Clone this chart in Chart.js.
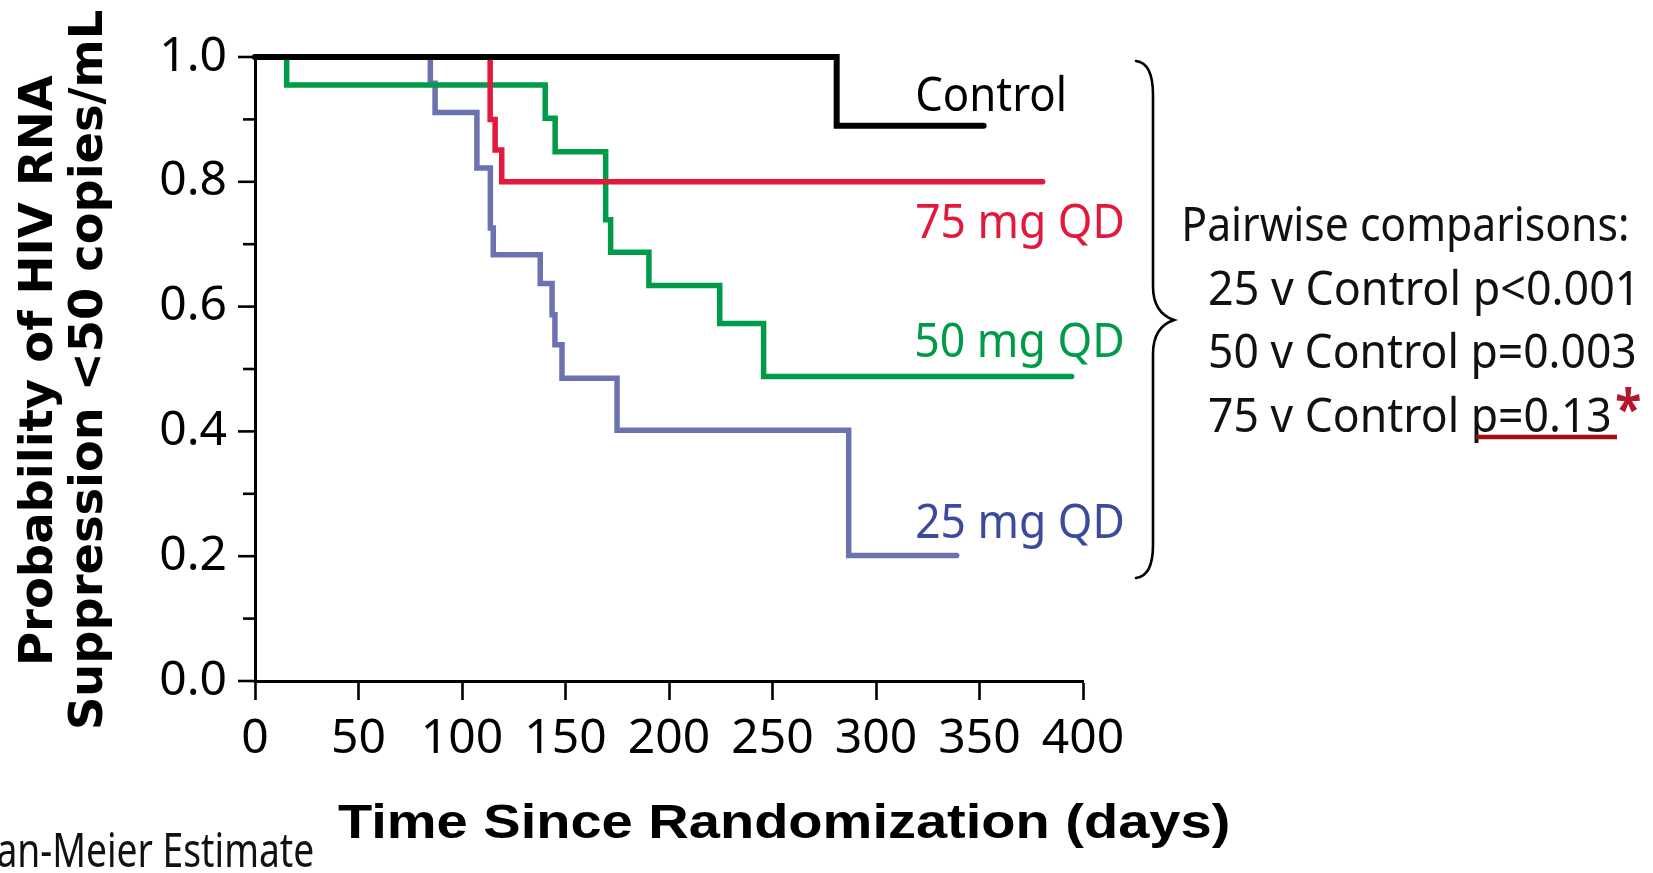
<!DOCTYPE html>
<html>
<head>
<meta charset="utf-8">
<script src="https://cdn.jsdelivr.net/npm/chart.js@4.4.1/dist/chart.umd.min.js"></script>
<style>
html,body{margin:0;padding:0;background:#fff;overflow:hidden}
#wrap{width:1653px;height:873px;position:relative}
</style>
</head>
<body>
<div id="wrap"><canvas id="c" width="1653" height="873"></canvas></div>
<script>
// ---------------- data ----------------
const xTickValues = [0, 50, 100, 150, 200, 250, 300, 350, 400];
const yTickValues = [0, 0.1, 0.2, 0.3, 0.4, 0.5, 0.6, 0.7, 0.8, 0.9, 1.0];
const yTickLabels = ['0.0', '', '0.2', '', '0.4', '', '0.6', '', '0.8', '', '1.0'];

const seriesNames = ['Control', '75 mg QD', '50 mg QD', '25 mg QD'];

const controlDays = [0, 281, 352];
const controlProb = [1.0, 0.89, 0.89];

const mg75Days = [0, 113.6, 116.0, 119.2, 380.5];
const mg75Prob = [1.0, 0.90, 0.851, 0.80, 0.80];

const mg50Days = [0, 15.3, 140.2, 145.0, 169.4, 171.8, 190.3, 224.5, 245.7, 394.5];
const mg50Prob = [1.0, 0.955, 0.902, 0.848, 0.739, 0.687, 0.634, 0.573, 0.488, 0.488];

const mg25Days = [0, 84.7, 87.0, 107.2, 113.7, 115.1, 137.8, 143.5, 144.9, 148.3, 174.9, 286.8, 339];
const mg25Prob = [1.0, 0.958, 0.911, 0.822, 0.726, 0.683, 0.637, 0.587, 0.539, 0.485, 0.402, 0.201, 0.201];

const xTitle = 'Time Since Randomization (days)';
const yTitleLines = ['Probability of HIV RNA', 'Suppression <50 copies/mL'];
const pairwiseTitle = 'Pairwise comparisons:';
const comparisonLines = ['25 v Control p<0.001', '50 v Control p=0.003', '75 v Control p=0.13'];
const footnote = 'an-Meier Estimate';

// ---------------- styles ----------------
const lineColors = ['#000000', '#e1193c', '#009b48', '#6c72b0'];
const labelColors = ['#000000', '#e1193c', '#009b48', '#3c4a9b'];
const lineWidths = [6, 5.5, 5.5, 5.5];

function pts(xs, ys) { return xs.map((x, i) => ({ x: x, y: ys[i] })); }
const seriesData = [
  pts(controlDays, controlProb),
  pts(mg75Days, mg75Prob),
  pts(mg50Days, mg50Prob),
  pts(mg25Days, mg25Prob)
];

// pick a narrow tick font if one is installed
function fontInstalled(name) {
  const c = document.createElement('canvas').getContext('2d');
  const s = '0123456789.0';
  c.font = '50px monospace'; const a = c.measureText(s).width;
  c.font = "50px '" + name + "', monospace"; const b = c.measureText(s).width;
  return Math.abs(a - b) > 0.5;
}
const narrow = fontInstalled('Liberation Sans Narrow');
const tickFont = narrow
  ? { family: "'Liberation Sans Narrow', sans-serif", size: 50 }
  : { family: "'Noto Sans', 'Open Sans', sans-serif", size: 48 };

// draw text so that its ink spans [x0,x1] horizontally, at a baseline
function fitText(ctx, text, font, color, x0, x1, baseline) {
  ctx.save();
  ctx.font = font;
  ctx.fillStyle = color;
  ctx.textAlign = 'left';
  ctx.textBaseline = 'alphabetic';
  const m = ctx.measureText(text);
  const inkW = m.actualBoundingBoxLeft + m.actualBoundingBoxRight;
  const sx = (x1 - x0) / inkW;
  ctx.translate(x0, baseline);
  ctx.scale(sx, 1);
  ctx.fillText(text, m.actualBoundingBoxLeft, 0);
  ctx.restore();
}
// draw text so its ink fills a box
function boxText(ctx, text, font, color, x0, x1, y0, y1) {
  ctx.save();
  ctx.font = font;
  ctx.fillStyle = color;
  ctx.textAlign = 'left';
  ctx.textBaseline = 'alphabetic';
  const m = ctx.measureText(text);
  const inkW = m.actualBoundingBoxLeft + m.actualBoundingBoxRight;
  const inkH = m.actualBoundingBoxAscent + m.actualBoundingBoxDescent;
  ctx.translate(x0, y0);
  ctx.scale((x1 - x0) / inkW, (y1 - y0) / inkH);
  ctx.fillText(text, m.actualBoundingBoxLeft, m.actualBoundingBoxAscent);
  ctx.restore();
}

const decorPlugin = {
  id: 'decor',
  afterDraw(chart) {
    const ctx = chart.ctx;
    const ys = chart.scales.y;
    const left = chart.chartArea.left;
    // y tick marks (major longer than minor)
    ctx.save();
    ctx.strokeStyle = '#000';
    ctx.lineWidth = 2.6;
    ys.ticks.forEach((t, i) => {
      const py = ys.getPixelForValue(t.value);
      const major = yTickLabels[i] !== '';
      const len = major ? 17 : 12;
      ctx.beginPath();
      ctx.moveTo(left - len, py);
      ctx.lineTo(left, py);
      ctx.stroke();
    });
    ctx.restore();

    // series labels
    const sans = "'Noto Sans', 'Open Sans', sans-serif";
    fitText(ctx, seriesNames[0], '48px ' + sans, labelColors[0], 917, 1064, 111);
    fitText(ctx, seriesNames[1], '48px ' + sans, labelColors[1], 917, 1123, 238);
    fitText(ctx, seriesNames[2], '48px ' + sans, labelColors[2], 917, 1123, 357);
    fitText(ctx, seriesNames[3], '48px ' + sans, labelColors[3], 917, 1123, 538);

    // curly brace
    ctx.save();
    ctx.strokeStyle = '#000';
    ctx.lineWidth = 2.6;
    ctx.lineCap = 'round';
    ctx.beginPath();
    ctx.moveTo(1136, 61);
    ctx.quadraticCurveTo(1153, 63, 1153, 95);
    ctx.lineTo(1153, 286);
    ctx.quadraticCurveTo(1153, 313, 1174, 320);
    ctx.quadraticCurveTo(1153, 327, 1153, 354);
    ctx.lineTo(1153, 545);
    ctx.quadraticCurveTo(1153, 576, 1136, 578);
    ctx.stroke();
    ctx.restore();

    // pairwise comparisons
    fitText(ctx, pairwiseTitle, '47px ' + sans, '#111', 1185, 1627, 241);
    fitText(ctx, comparisonLines[0], '47px ' + sans, '#111', 1210, 1631, 305);
    fitText(ctx, comparisonLines[1], '47px ' + sans, '#111', 1210, 1635, 368);
    fitText(ctx, comparisonLines[2], '47px ' + sans, '#111', 1210, 1610, 432);
    // underline + asterisk
    ctx.save();
    ctx.strokeStyle = '#a30d12';
    ctx.lineWidth = 4.5;
    ctx.beginPath();
    ctx.moveTo(1476, 437);
    ctx.lineTo(1617, 437);
    ctx.stroke();
    ctx.restore();
    boxText(ctx, '*', 'bold 60px ' + sans, '#b2182b', 1616, 1640, 388, 413);

    // axis titles
    fitText(ctx, xTitle, "bold 48px 'Liberation Sans', Arial, sans-serif", '#000', 338, 1228, 838);
    const yFont = "bold 46px 'DejaVu Sans', Verdana, sans-serif";
    ctx.save();
    ctx.translate(52, 662);
    ctx.rotate(-Math.PI / 2);
    fitText(ctx, yTitleLines[0], yFont, '#000', 0, 662 - 75, 0);
    ctx.restore();
    ctx.save();
    ctx.translate(102, 727);
    ctx.rotate(-Math.PI / 2);
    fitText(ctx, yTitleLines[1], yFont, '#000', 0, 727 - 10, 0);
    ctx.restore();

    // footnote (cut off at left edge)
    fitText(ctx, footnote, '47px ' + sans, '#111', -2, 313, 867);
  }
};

const ctx = document.getElementById('c').getContext('2d');
new Chart(ctx, {
  type: 'line',
  data: {
    datasets: seriesNames.map((name, i) => ({
      label: name,
      data: seriesData[i],
      borderColor: lineColors[i],
      backgroundColor: lineColors[i],
      borderWidth: lineWidths[i],
      stepped: 'before',
      pointRadius: 0,
      fill: false,
      tension: 0,
      clip: false,
      borderCapStyle: 'round',
      borderJoinStyle: 'miter'
    }))
  },
  options: {
    responsive: false,
    animation: false,
    events: [],
    layout: { padding: { top: 57, right: 570, bottom: 0, left: 0 } },
    plugins: { legend: { display: false }, tooltip: { enabled: false }, title: { display: false } },
    scales: {
      x: {
        type: 'linear',
        min: 0,
        max: 400,
        afterBuildTicks: (s) => { s.ticks = xTickValues.map(v => ({ value: v })); },
        afterFit: (s) => { s.height = 873 - 681; },
        ticks: {
          callback: (v) => String(v),
          font: tickFont,
          color: '#000',
          padding: 11,
          maxRotation: 0,
          autoSkip: false
        },
        grid: { drawOnChartArea: false, drawTicks: true, tickLength: 19, tickWidth: 2.6, tickColor: '#000', color: '#000' },
        border: { display: true, color: '#000', width: 3 }
      },
      y: {
        type: 'linear',
        min: 0,
        max: 1,
        afterBuildTicks: (s) => { s.ticks = yTickValues.map(v => ({ value: v })); },
        afterFit: (s) => { s.width = 255; },
        ticks: {
          callback: (v, i) => yTickLabels[i],
          font: tickFont,
          color: '#000',
          padding: 28,
          autoSkip: false
        },
        grid: { drawOnChartArea: false, drawTicks: false, color: '#000' },
        border: { display: true, color: '#000', width: 3 }
      }
    }
  },
  plugins: [decorPlugin]
});
</script>
</body>
</html>
